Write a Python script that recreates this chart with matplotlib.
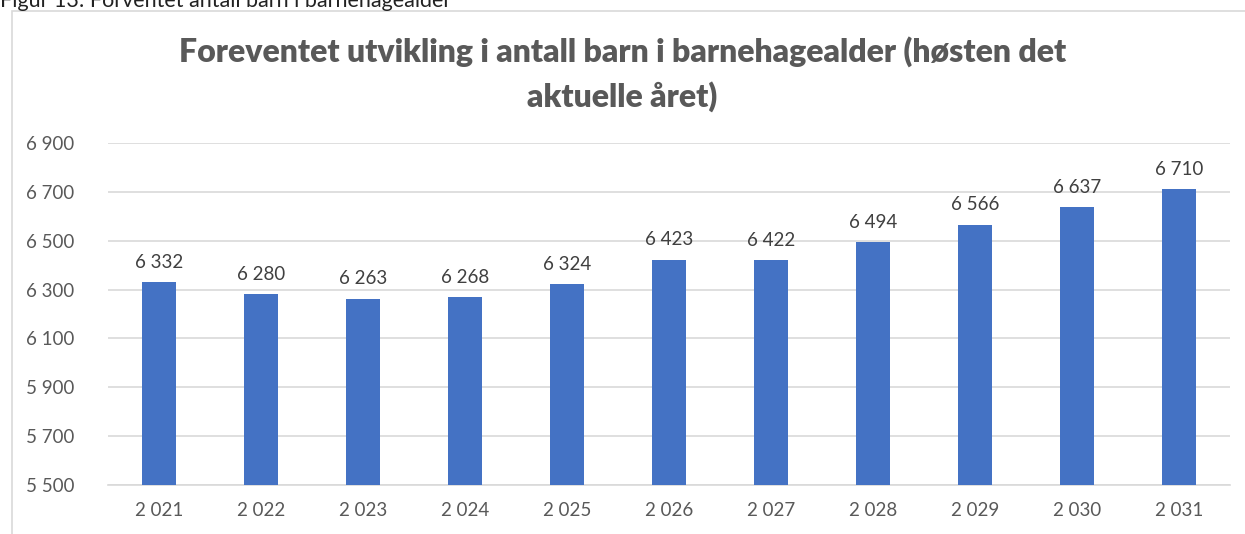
import matplotlib.pyplot as plt
from matplotlib.patches import Rectangle

# data
years = ['2 021', '2 022', '2 023', '2 024', '2 025', '2 026',
         '2 027', '2 028', '2 029', '2 030', '2 031']
barn = [6332, 6280, 6263, 6268, 6324, 6423, 6422, 6494, 6566, 6637, 6710]
yticks = [5500, 5700, 5900, 6100, 6300, 6500, 6700, 6900]

plt.rcParams['font.family'] = ['Lato', 'DejaVu Sans']

def fmt(v):
    return f'{v:,}'.replace(',', ' ')

fig = plt.figure(figsize=(12.45, 5.34), dpi=100)

# ramme rundt diagrammet
fig.patches.append(Rectangle((12 / 1245, -0.05), 1.1, 1 - 11 / 534 + 0.05,
                             transform=fig.transFigure, fill=False,
                             edgecolor='#d9d9d9', linewidth=1.2))

# avkuttet figurtekst øverst
fig.text(0.0, 1 - 7 / 534, 'Figur 13: Forventet antall barn i barnehagealder',
         fontsize=15.5, color='#222222', va='baseline', ha='left')

ax = fig.add_axes([108 / 1245, 1 - 485 / 534, (1230 - 108) / 1245, (485 - 143) / 534])

x = list(range(len(years)))
bars = ax.bar(x, barn, width=0.33, color='#4472c4', zorder=3)
ax.set_ylim(5500, 6900)
ax.set_xlim(-0.5, len(years) - 0.5)
ax.set_yticks(yticks)
ax.set_yticklabels([fmt(v) for v in yticks])
ax.set_xticks(x)
ax.set_xticklabels(years)
ax.tick_params(length=0, labelsize=13.5, colors='#595959', pad=12)
ax.tick_params(axis='y', pad=24)
ax.grid(axis='y', color='#d9d9d9', linewidth=1.2, zorder=0)
for s in ['top', 'right', 'left']:
    ax.spines[s].set_visible(False)
ax.spines['bottom'].set_color('#d9d9d9')
ax.spines['bottom'].set_linewidth(1.2)

for xi, v in zip(x, barn):
    ax.annotate(fmt(v), (xi, v), xytext=(0, 8), textcoords='offset points',
                ha='center', va='bottom', fontsize=13.5, color='#404040')

fig.text(0.5, 1 - 52 / 534, 'Foreventet utvikling i antall barn i barnehagealder (høsten det',
         ha='center', va='center', fontsize=23, fontweight='heavy', color='#595959')
fig.text(0.5, 1 - 97 / 534, 'aktuelle året)',
         ha='center', va='center', fontsize=23, fontweight='heavy', color='#595959')

fig.savefig('out.png', dpi=100)
